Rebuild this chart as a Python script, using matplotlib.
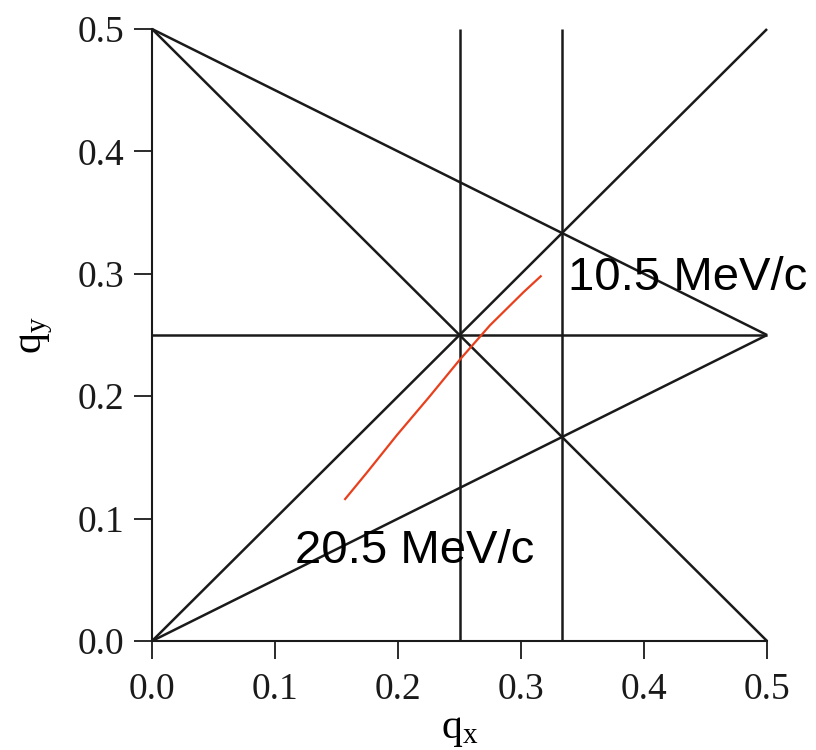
import matplotlib
matplotlib.use("Agg")
import matplotlib.pyplot as plt
import numpy as np

# Resonance lines (start point, end point) in tune space
line_x0 = [0.0, 0.0, 0.0, 0.0, 0.0, 0.25, 1/3]
line_y0 = [0.5, 0.0, 0.5, 0.0, 0.25, 0.0, 0.0]
line_x1 = [0.5, 0.5, 0.5, 0.5, 0.5, 0.25, 1/3]
line_y1 = [0.0, 0.5, 0.25, 0.25, 0.25, 0.5, 0.5]

# Measured tune trajectory (red)
traj_x = [0.157, 0.175, 0.1989, 0.225, 0.25, 0.2748, 0.302, 0.316]
traj_y = [0.116, 0.138, 0.168, 0.199, 0.2296, 0.258, 0.285, 0.298]

ticks = [0.0, 0.1, 0.2, 0.3, 0.4, 0.5]
tick_labels = ["0.0", "0.1", "0.2", "0.3", "0.4", "0.5"]

labels = ["10.5 MeV/c", "20.5 MeV/c"]
label_x = [0.338, 0.116]
label_y = [0.287, 0.064]

fig = plt.figure(figsize=(8.16, 7.5), dpi=100)
ax = fig.add_axes([0.1863, 0.1453, 0.940 - 0.1863, 0.9613 - 0.1453])

for xa, ya, xb, yb in zip(line_x0, line_y0, line_x1, line_y1):
    ax.plot([xa, xb], [ya, yb], color="#1a1a1a", lw=1.8, solid_capstyle="butt", clip_on=False)

ax.plot(traj_x, traj_y, color="#e8401c", lw=1.6, clip_on=False)

for t, x, y in zip(labels, label_x, label_y):
    ax.text(x, y, t, fontsize=34, family="Liberation Sans", ha="left", va="baseline", color="black")

ax.set_xlim(0, 0.5)
ax.set_ylim(0, 0.5)
ax.set_xticks(ticks)
ax.set_xticklabels(tick_labels)
ax.set_yticks(ticks)
ax.set_yticklabels(tick_labels)
for lab in ax.get_xticklabels() + ax.get_yticklabels():
    lab.set_family("Liberation Serif")
    lab.set_fontsize(27)
    lab.set_color("#222222")
ax.tick_params(direction="out", length=13, width=1.3, colors="#1a1a1a")
ax.tick_params(axis="x", pad=10)
ax.tick_params(axis="y", pad=7)
ax.spines["top"].set_visible(False)
ax.spines["right"].set_visible(False)
for s in ["left", "bottom"]:
    ax.spines[s].set_linewidth(1.5)
    ax.spines[s].set_color("#1a1a1a")

ax.set_xlabel(r"$\mathregular{q_x}$", fontsize=30, family="Liberation Serif", labelpad=2)
ax.set_ylabel(r"$\mathregular{q_y}$", fontsize=30, family="Liberation Serif", labelpad=16)

fig.savefig("out.png", dpi=100)
